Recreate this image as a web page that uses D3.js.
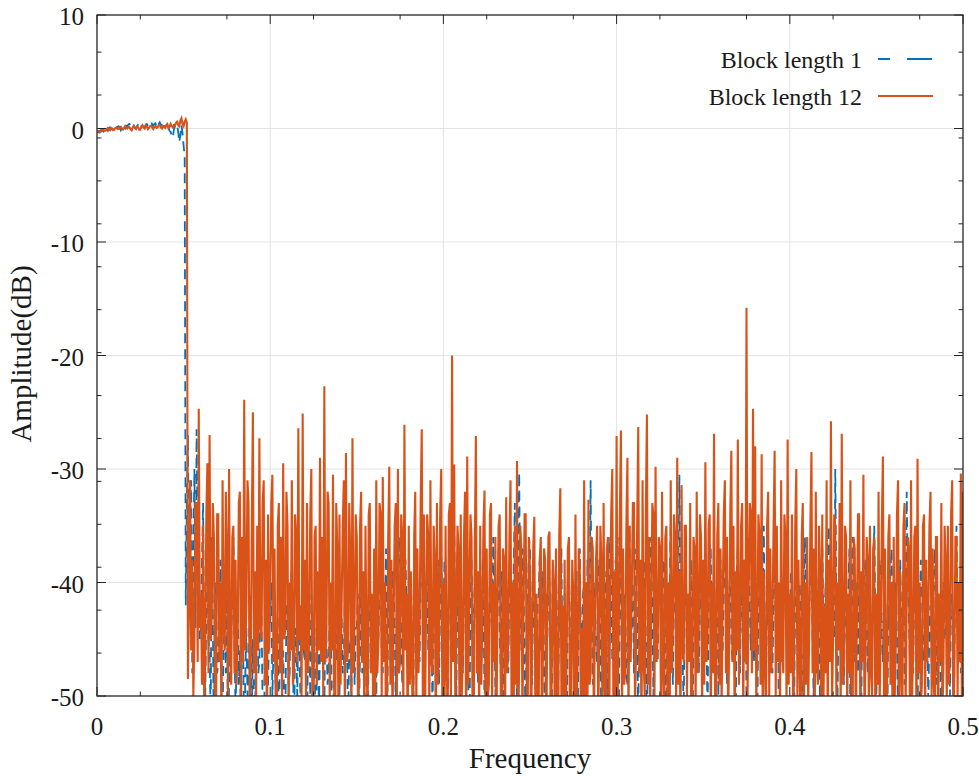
<!DOCTYPE html>
<html>
<head>
<meta charset="utf-8">
<script src="https://cdn.jsdelivr.net/npm/d3@7"></script>
<style>
  html, body { margin: 0; padding: 0; background: #ffffff; }
  svg { display: block; }
</style>
</head>
<body>
<svg id="chart" width="979" height="776"></svg>
<script>
// ---------------- DATA ----------------
const freqStep = 0.000625;          // frequency spacing of the samples (0 .. 0.5)
const seriesNames = ["Block length 1", "Block length 12"];

// Block length 1 (blue, dashed): passband samples (f = 0 ...)
const blockLen1Passband = [
  -0.2,-0.3,-0.35,-0.2,-0.1,-0.15,-0.25,-0.05,0.05,-0.1,-0.2,0.05,
  0.1,-0.05,-0.1,0.1,0.15,0,-0.05,0.15,0.2,0.05,-0.15,0.1,
  0.3,0.1,0,0.25,0.2,0.35,0.4,0.2,0.1,0.3,0.25,0.05,
  -0.05,0.2,0.35,0.5,0.5,0.3,0.2,0.1,0.1,0.35,0.4,0.25,
  0.3,0.5,0.6,0.35,0.2,0.4,0.45,0.2,0.1,0.4,0.55,0.35,
  0.3,0.15,0.25,0.45,0.5,0.2,0.1,-0.2,-0.3,-0.6,-0.8,-0.1,
  0.2,0.3,0.4,-0.3,-1.2,-0.6,0.3,-0.4,-1.5,-2.5
];
// Block length 1: stopband samples (continuing)
const blockLen1Stopband = [
  -42,-33,-27,-40,-35,-31,-48,-37,-30,-44,-26.5,-36,-38,-45,
  -44,-38,-33,-47,-50,-42,-39,-45,-46,-52,-36,-43,-55,-40,-41,-48,
  -47,-43,-38,-50,-52,-45,-43,-48,-40,-55,-49,-44,-45,-41,-36,-46,
  -51,-47,-42,-49,-46,-53,-39,-45,-56,-48,-44,-50,-48,-43,-41,-52,
  -45,-50,-53,-44,-40,-48,-47,-42,-43,-51,-58,-46,-42,-49,-49,-44,
  -44,-40,-50,-46,-41,-49,-47,-43,-54,-45,-39,-48,-46,-51,-52,-42,
  -43,-49,-48,-41,-38,-46,-55,-44,-45,-50,-42,-47,-50,-43,-40,-46,
  -47,-42,-53,-45,-44,-50,-41,-47,-49,-44,-57,-48,-43,-51,-46,-41,
  -39,-46,-51,-43,-45,-49,-48,-42,-42,-53,-56,-45,-44,-47,-40,-48,
  -50,-44,-43,-48,-47,-41,-38,-46,-53,-45,-45,-50,-41,-43,-49,-44,
  -44,-41,-52,-46,-40,-48,-46,-42,-43,-50,-55,-45,-39,-44,-47,-42,
  -42,-38,-50,-43,-45,-40,-38,-46,-48,-41,-44,-37,-53,-43,-41,-47,
  -46,-39,-40,-44,-51,-42,-43,-36,-37,-45,-49,-41,-45,-38,-42,-47,
  -48,-42,-39,-45,-54,-40,-44,-37,-41,-46,-47,-39,-36,-43,-50,-41,
  -43,-39,-46,-41,-38,-44,-52,-40,-42,-47,-45,-38,-49,-42,-37,-44,
  -44,-38,-40,-45,-53,-42,-41,-37,-47,-43,-35,-46,-50,-40,-43,-48,
  -39,-44,-48,-41,-42,-37,-45,-49,-56,-40,-38,-43,-46,-39,-41,-45,
  -49,-42,-37,-45,-44,-39,-52,-41,-40,-46,-47,-38,-43,-44,-36,-41,
  -50,-43,-42,-37,-45,-48,-39,-44,-55,-40,-41,-46,-48,-39,-38,-43,
  -44,-38,-33,-45,-51,-39,-30.3,-42,-46,-37,-40,-47,-53,-41,-42,-36,
  -37,-44,-49,-40,-43,-47,-57,-42,-41,-38,-46,-44,-39,-48,-52,-41,
  -45,-41,-40,-46,-54,-39,-43,-48,-38,-44,-50,-42,-44,-37,-47,-43,
  -41,-46,-56,-40,-39,-44,-48,-42,-42,-47,-45,-39,-53,-43,-37,-45,
  -46,-41,-40,-45,-51,-38,-44,-42,-31,-43,-49,-40,-42,-46,-47,-39,
  -38,-44,-54,-42,-45,-39,-41,-47,-50,-43,-36,-40,-47,-44,-43,-38,
  -40,-36,-52,-43,-38,-45,-46,-41,-42,-48,-49,-39,-35,-44,-44,-40,
  -48,-42,-37,-44,-53,-40,-41,-46,-45,-38,-39,-45,-56,-42,-43,-37,
  -36,-43,-50,-41,-42,-46,-47,-39,-40,-44,-45,-38,-38,-47,-52,-42,
  -44,-40,-35,-45,-49,-38,-41,-46,-46,-39,-30.5,-42,-43,-47,-51,-41,
  -39,-44,-47,-41,-42,-38,-55,-45,-37,-43,-44,-40,-48,-42,-40,-46,
  -45,-40,-36,-44,-52,-42,-41,-37,-47,-43,-39,-46,-43,-38,-50,-42,
  -38,-43,-46,-40,-33,-44,-49,-41,-42,-37,-45,-47,-40,-43,-54,-39,
  -37,-42,-48,-40,-43,-46,-41,-38,-51,-44,-36,-42,-46,-39,-44,-47,
  -39,-45,-53,-41,-42,-38,-47,-43,-35,-46,-50,-40,-44,-42,-40,-45,
  -48,-41,-38,-44,-45,-40,-56,-43,-41,-47,-43,-39,-37,-44,-49,-42,
  -44,-39,-40,-46,-52,-41,-38,-43,-46,-40,-42,-47,-55,-41,-36,-44,
  -47,-42,-43,-38,-39,-45,-50,-41,-45,-48,-41,-39,-53,-44,-37,-43,
  -44,-40,-48,-43,-35,-42,-46,-39,-40,-45,-30,-41,-51,-43,-42,-38,
  -38,-44,-49,-40,-44,-46,-41,-37,-54,-42,-36,-45,-47,-40,-43,-48,
  -40,-45,-52,-41,-45,-39,-38,-44,-48,-42,-42,-47,-46,-40,-35,-43,
  -50,-42,-43,-38,-39,-45,-47,-41,-41,-46,-55,-42,-44,-39,-37,-44,
  -46,-41,-40,-45,-52,-42,-38,-44,-45,-39,-49,-43,-32,-40,-43,-47,
  -41,-45,-48,-40,-36,-43,-53,-42,-44,-38,-40,-46,-47,-41,-39,-44,
  -51,-43,-42,-47,-45,-39,-37,-44,-49,-41,-43,-46,-56,-42,-40,-45,
  -45,-40,-38,-44,-50,-41,-42,-46,-47,-39,-35,-43,-44,-40,-48,-42,
  -41
];

// Block length 12 (orange, solid): passband samples
const blockLen12Passband = [
  -0.3,-0.25,-0.2,-0.3,-0.25,-0.15,-0.1,-0.2,-0.2,-0.05,0.05,-0.1,
  -0.15,0.05,0,-0.15,-0.1,0.05,0.1,-0.05,-0.05,0.1,0.15,0,
  -0.1,0.05,0.2,0.05,0,0.15,0.1,-0.05,-0.15,0.1,0.25,0.05,
  0.05,0.15,0.1,-0.1,-0.1,0.2,0.3,0.1,0,0.25,0.15,-0.05,
  0.05,0.2,0.25,0.1,-0.05,0.15,0.2,0.05,0.1,0.3,0.3,0.1,
  0,0.2,0.15,0.05,0.3,0.4,0.05,0.15,0.4,0.2,0.1,0.3,
  0.3,0.5,0.6,0.3,0.2,0.7,0.9,0.4,0.2,0.6,0.8,0.5
];
// Block length 12: stopband samples
const blockLen12Stopband = [
  -48.5,-42,-31,-46,-38,-50,-45,-33,-33,-47,-24.7,-44,
  -41,-49,-35,-51,-47,-34,-29.5,-48,-27,-45,-43,-33,-36,-50,-52,-34,
  -34,-47,-40,-53,-31,-44,-46,-32,-37,-50,-30,-46,-49,-36,-35,-48,
  -38,-49,-44,-33,-32,-52,-36,-47,-23.9,-46,-42,-31,-33,-51,-47,-35,
  -25,-48,-39,-50,-35,-46,-27.3,-44,-45,-33,-31,-49,-38,-54,-34,-46,
  -41,-33,-30.5,-47,-37,-50,-53,-35,-33,-48,-36,-51,-29.5,-45,-44,-32,
  -35,-52,-40,-46,-31,-49,-48,-34,-36,-47,-26.4,-45,-42,-50,-25.1,-46,
  -38,-50,-33,-48,-45,-34,-30,-53,-51,-36,-35,-49,-39,-46,-29,-47,
  -36,-50,-22.7,-47,-44,-32,-33,-51,-40,-46,-30.5,-49,-55,-33,-37,-52,
  -34,-49,-42,-35,-31,-53,-28.6,-47,-46,-33,-38,-51,-27.3,-48,-43,-34,
  -36,-50,-49,-35,-32,-47,-39,-54,-35,-46,-52,-34,-33,-48,-41,-50,
  -37,-52,-31,-48,-45,-33,-34,-50,-30.7,-47,-40,-55,-50,-36,-29.8,-49,
  -38,-53,-43,-35,-33,-51,-30,-48,-47,-34,-36,-52,-26.1,-46,-41,-54,
  -35,-49,-39,-47,-54,-36,-32,-51,-37,-48,-44,-33,-26.5,-50,-34,-53,
  -42,-34,-36,-52,-31,-47,-48,-35,-38,-55,-33,-49,-45,-34,-30,-51,
  -40,-53,-35,-48,-51,-34,-33,-50,-20,-47,-29.6,-52,-43,-35,-37,-54,
  -34,-50,-46,-36,-32,-55,-28.9,-49,-41,-34,-36,-53,-53,-37,-27.1,-48,
  -39,-52,-35,-49,-44,-35,-31.9,-56,-37,-50,-49,-34,-33,-51,-40,-47,
  -36,-54,-42,-35,-34,-50,-55,-37,-38,-52,-32.5,-48,-45,-36,-31,-53,
  -40,-51,-35,-49,-29.3,-54,-47,-35,-37,-52,-43,-34,-34,-50,-50,-36,
  -39,-55,-44,-37,-34.2,-53,-41,-49,-52,-38,-36,-54,-46,-37,-38,-56,
  -43,-36,-35.5,-52,-49,-38,-40,-55,-37,-51,-54,-36,-31.7,-50,-42,-57,
  -38,-53,-45,-37,-36,-54,-51,-38,-41,-56,-34,-50,-47,-37,-39,-52,
  -44,-55,-31,-50,-40,-53,-32.7,-49,-48,-36,-37,-54,-43,-38,-35,-52,
  -46,-35,-38,-53,-33,-49,-52,-37,-36,-55,-42,-34,-30,-51,-39,-50,
  -27.1,-50,-44,-34,-26.6,-52,-37,-49,-48,-35,-29,-53,-35,-47,-41,-33,
  -33,-51,-46,-35,-26.3,-48,-38,-54,-31,-47,-50,-34,-25.2,-49,-36,-52,
  -42,-33,-34,-50,-29.8,-47,-45,-36,-37,-52,-32,-48,-53,-36,-35,-51,
  -40,-54,-31,-48,-44,-34,-36,-51,-29,-49,-39,-53,-31.4,-46,-47,-35,
  -35,-50,-41,-47,-33,-54,-49,-36,-37,-51,-32,-48,-43,-34,-36,-52,
  -38,-49,-29.4,-47,-45,-35,-34,-53,-40,-48,-26.9,-50,-51,-36,-33,-49,
  -37,-51,-42,-34,-31,-48,-36,-52,-46,-34,-28.4,-47,-35,-53,-39,-46,
  -27.4,-49,-44,-35,-33,-52,-38,-47,-15.8,-50,-41,-33,-34,-48,-24.7,-46,
  -28,-51,-45,-34,-36,-49,-28.7,-53,-39,-47,-52,-35,-32,-50,-37,-48,
  -43,-35,-28.4,-50,-35,-47,-40,-52,-31,-46,-48,-34,-36,-51,-27.4,-49,
  -41,-48,-34,-52,-46,-35,-30,-50,-38,-47,-55,-36,-33,-53,-40,-49,
  -36,-51,-44,-35,-28.5,-48,-37,-54,-32,-47,-49,-35,-39,-50,-34,-52,
  -42,-48,-31,-53,-38,-47,-25.8,-51,-45,-34,-35,-50,-40,-46,-33,-52,
  -26.9,-49,-47,-35,-36,-52,-41,-48,-31,-50,-53,-36,-37,-54,-43,-34,
  -34,-50,-39,-47,-30.5,-53,-46,-36,-38,-51,-35,-48,-50,-37,-36,-52,
  -41,-49,-32,-51,-44,-35,-28.9,-50,-37,-53,-48,-36,-34,-49,-40,-54,
  -36,-50,-45,-34,-31,-52,-39,-48,-52,-35,-33,-51,-42,-36,-37,-53,
  -31,-50,-46,-36,-35,-53,-29.1,-48,-40,-51,-49,-35,-34,-52,-38,-47,
  -43,-35,-32,-50,-37,-49,-51,-36,-36,-54,-41,-47,-33,-52,-47,-35,
  -38,-51,-35,-49,-44,-34,-31,-53,-48,-36,-36,-50,-40,-47,-30.4,-52,
  -32
];

const xTickValues = [0, 0.1, 0.2, 0.3, 0.4, 0.5];
const xTickLabels = ["0", "0.1", "0.2", "0.3", "0.4", "0.5"];
const yTickValues = [10, 0, -10, -20, -30, -40, -50];
const yTickLabels = ["10", "0", "-10", "-20", "-30", "-40", "-50"];

// ---------------- LAYOUT ----------------
const plot = { left: 97, right: 963, top: 15, bottom: 696 };
const colors = { blue: "#0072BD", orange: "#D95319", axis: "#262626", grid: "#e3e3e3", text: "#1a1a1a" };
const fontFamily = "'Liberation Serif', 'Times New Roman', serif";

const svg = d3.select("#chart");
const x = d3.scaleLinear().domain([0, 0.5]).range([plot.left, plot.right]);
const y = d3.scaleLinear().domain([-50, 10]).range([plot.bottom, plot.top]);

const blueVals = blockLen1Passband.concat(blockLen1Stopband);
const orangeVals = blockLen12Passband.concat(blockLen12Stopband);
const blueData = blueVals.map((v, i) => ({ f: i * freqStep, v }));
const orangeData = orangeVals.map((v, i) => ({ f: i * freqStep, v }));

// grid
const grid = svg.append("g");
grid.selectAll("line.gx").data(xTickValues.slice(1, -1)).join("line")
  .attr("x1", d => x(d)).attr("x2", d => x(d))
  .attr("y1", plot.top).attr("y2", plot.bottom)
  .attr("stroke", colors.grid).attr("stroke-width", 1);
grid.selectAll("line.gy").data(yTickValues.slice(1, -1)).join("line")
  .attr("y1", d => y(d)).attr("y2", d => y(d))
  .attr("x1", plot.left).attr("x2", plot.right)
  .attr("stroke", colors.grid).attr("stroke-width", 1);

// clip
svg.append("clipPath").attr("id", "plotClip").append("rect")
  .attr("x", plot.left).attr("y", plot.top)
  .attr("width", plot.right - plot.left).attr("height", plot.bottom - plot.top);

const line = d3.line().x(d => x(d.f)).y(d => y(d.v));
const dataG = svg.append("g").attr("clip-path", "url(#plotClip)");
dataG.append("path").datum(blueData)
  .attr("d", line).attr("fill", "none")
  .attr("stroke", colors.blue).attr("stroke-width", 1.8)
  .attr("stroke-dasharray", "10,6");
dataG.append("path").datum(orangeData)
  .attr("d", line).attr("fill", "none")
  .attr("stroke", colors.orange).attr("stroke-width", 2.1);

// axes frame and ticks (inward, on all four sides)
const axG = svg.append("g");
const minorX = d3.range(0.025, 0.5, 0.05);
const minorY = d3.range(1, 16).map(k => -50 + k * 3.782);

function addXTicks(vals, len, yPos, dir) {
  axG.selectAll(null).data(vals).join("line")
    .attr("x1", d => x(d)).attr("x2", d => x(d))
    .attr("y1", yPos).attr("y2", yPos + dir * len)
    .attr("stroke", colors.axis).attr("stroke-width", 1);
}
function addYTicks(vals, len, xPos, dir) {
  axG.selectAll(null).data(vals).join("line")
    .attr("y1", d => y(d)).attr("y2", d => y(d))
    .attr("x1", xPos).attr("x2", xPos + dir * len)
    .attr("stroke", colors.axis).attr("stroke-width", 1);
}
addXTicks(xTickValues, 9, plot.bottom, -1);
addXTicks(xTickValues, 9, plot.top, 1);
addXTicks(minorX, 4.5, plot.bottom, -1);
addXTicks(minorX, 4.5, plot.top, 1);
addYTicks(yTickValues, 9, plot.left, 1);
addYTicks(yTickValues, 9, plot.right, -1);
addYTicks(minorY, 4.5, plot.left, 1);
addYTicks(minorY, 4.5, plot.right, -1);

axG.append("rect")
  .attr("x", plot.left).attr("y", plot.top)
  .attr("width", plot.right - plot.left).attr("height", plot.bottom - plot.top)
  .attr("fill", "none").attr("stroke", colors.axis).attr("stroke-width", 1.3);

// tick labels
svg.append("g").selectAll("text").data(xTickValues).join("text")
  .attr("x", d => x(d)).attr("y", 735)
  .attr("text-anchor", "middle")
  .attr("font-family", fontFamily).attr("font-size", 25).attr("fill", colors.text)
  .text((d, i) => xTickLabels[i]);
svg.append("g").selectAll("text").data(yTickValues).join("text")
  .attr("x", 84).attr("y", d => y(d) + 10)
  .attr("text-anchor", "end")
  .attr("font-family", fontFamily).attr("font-size", 25).attr("fill", colors.text)
  .text((d, i) => yTickLabels[i]);

// axis labels
svg.append("text")
  .attr("x", x(0.25)).attr("y", 768)
  .attr("text-anchor", "middle")
  .attr("font-family", fontFamily).attr("font-size", 29).attr("fill", colors.text)
  .text("Frequency");
svg.append("text")
  .attr("transform", "translate(31,354) rotate(-90)")
  .attr("text-anchor", "middle")
  .attr("font-family", fontFamily).attr("font-size", 29).attr("fill", colors.text)
  .text("Amplitude(dB)");

// legend
const legend = svg.append("g");
const legendRows = [
  { name: seriesNames[0], color: colors.blue, dash: "12,17,25", y: 59 },
  { name: seriesNames[1], color: colors.orange, dash: null, y: 96 }
];
legendRows.forEach(r => {
  legend.append("text")
    .attr("x", 862).attr("y", r.y + 9)
    .attr("text-anchor", "end")
    .attr("font-family", fontFamily).attr("font-size", 24).attr("fill", colors.text)
    .text(r.name);
  const l = legend.append("line")
    .attr("x1", 878).attr("x2", 933).attr("y1", r.y).attr("y2", r.y)
    .attr("stroke", r.color).attr("stroke-width", 2);
  if (r.dash) l.attr("stroke-dasharray", r.dash);
});
</script>
</body>
</html>
